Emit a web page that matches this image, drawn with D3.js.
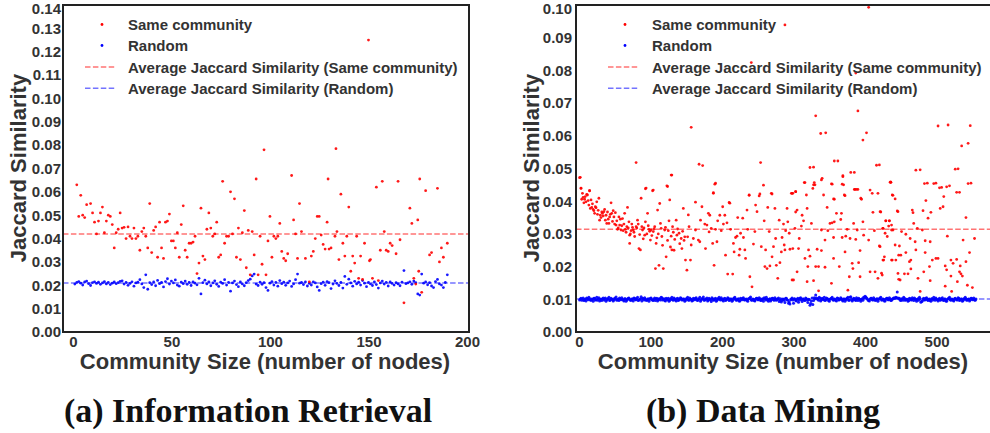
<!DOCTYPE html>
<html><head><meta charset="utf-8">
<script src="https://cdn.jsdelivr.net/npm/d3@7/dist/d3.min.js"></script>
<style>body{margin:0;background:#fff}svg{display:block}</style>
</head><body>
<svg id="c" width="990" height="433"></svg>
<script>
// ---------------- DATA ----------------
const legendLabels = ["Same community","Random","Average Jaccard Similarity (Same community)","Average Jaccard Similarity (Random)"];
const irYTicks = [0,0.01,0.02,0.03,0.04,0.05,0.06,0.07,0.08,0.09,0.10,0.11,0.12,0.13,0.14];
const irXTicks = [0,50,100,150,200];
const dmYTicks = [0,0.01,0.02,0.03,0.04,0.05,0.06,0.07,0.08,0.09,0.10];
const dmXTicks = [0,100,200,300,400,500];
const irAvgSame = 0.042, irAvgRandom = 0.021;
const dmAvgSame = 0.0314, dmAvgRandom = 0.0101;

// Information Retrieval: [community size, Jaccard similarity]
const irSame = [[2,.063],[4,.0585],[3,.0495],[5,.050],[6,.049],[7,.0545],[9,.055],[10,.051],[11,.047],[12,.042],[13,.0475],[14,.051],[15,.0535],[16,.0425],[17,.0475],[18,.050],[19,.0495],[20,.046],[21,.036],[22,.0425],[23,.044],[24,.051],[25,.0445],[26,.0448],[27,.040],[28,.045],[29,.041],[30,.040],[31,.0445],[32,.040],[33,.041],[34,.035],[35,.043],[36,.0445],[37,.041],[38,.036],[39,.055],[40,.034],[41,.0435],[42,.045],[43,.032],[44,.047],[45,.036],[46,.0315],[47,.047],[48,.0475],[49,.0505],[50,.039],[51,.039],[52,.036],[53,.0425],[54,.032],[55,.046],[56,.054],[57,.035],[58,.032],[59,.038],[60,.038],[61,.0385],[62,.041],[63,.025],[64,.0295],[65,.053],[66,.0325],[67,.031],[68,.044],[69,.051],[70,.0445],[71,.041],[72,.042],[73,.047],[74,.032],[75,.033],[76,.0645],[77,.038],[78,.041],[79,.041],[80,.060],[81,.042],[82,.057],[83,.032],[84,.0445],[85,.031],[86,.0425],[87,.052],[88,.0275],[89,.0435],[90,.0245],[91,.043],[92,.033],[93,.0655],[94,.0245],[95,.041],[96,.029],[97,.078],[98,.0245],[99,.039],[100,.0495],[101,.032],[102,.041],[103,.040],[104,.041],[105,.0465],[106,.0345],[107,.0315],[108,.0305],[109,.0335],[111,.067],[112,.048],[113,.042],[114,.0315],[115,.055],[116,.043],[118,.0315],[120,.0215],[121,.0325],[122,.0345],[123,.040],[124,.0495],[125,.0495],[126,.0415],[127,.0375],[128,.0355],[129,.047],[129.5,.0655],[130,.0355],[131,.036],[133,.041],[133.5,.0785],[134,.043],[135,.031],[136,.059],[137,.038],[138,.0325],[139,.041],[140,.0535],[141,.026],[142,.0325],[143,.0295],[144,.041],[145,.023],[146,.0325],[147,.0225],[148,.038],[150,.125],[150.5,.0305],[151,.031],[152,.023],[154,.062],[155,.022],[156,.035],[157,.0645],[158,.043],[159,.035],[160,.0345],[161,.038],[162,.037],[164,.0335],[165,.0645],[166,.0395],[168,.0125],[171,.053],[172,.0465],[173,.023],[174,.0205],[175,.048],[175.5,.026],[176,.0655],[177,.017],[179,.0605],[181,.033],[182,.034],[185,.0615],[186,.030],[187,.036],[188,.032],[190,.038]];

const irRandom = [[1,.0205],[2,.0212],[3,.0216],[4,.0209],[5,.0201],[6,.0214],[7,.0218],[8,.0207],[9,.0199],[10,.0211],[11,.0215],[12,.0208],[13,.0213],[14,.0204],[15,.0210],[16,.0216],[17,.0206],[18,.0212],[19,.0203],[20,.0209],[21,.0214],[22,.0207],[23,.0211],[24,.0217],[25,.0219],[26,.0205],[27,.0212],[28,.0200],[29,.0208],[30,.0215],[31,.0196],[32,.0210],[33,.0213],[34,.0224],[35,.0206],[36,.0190],[37,.0245],[38,.0183],[39,.0211],[40,.0203],[41,.0214],[42,.0198],[43,.0221],[44,.0207],[45,.0212],[46,.0193],[47,.0216],[48,.0228],[49,.0205],[50,.0218],[51,.0210],[52,.0223],[53,.0201],[54,.0196],[55,.0213],[56,.0207],[57,.0218],[58,.0204],[59,.0212],[60,.0199],[61,.0215],[62,.0209],[63,.0202],[64,.0230],[65,.0163],[66,.0211],[67,.0222],[68,.0206],[69,.0215],[70,.0198],[71,.0210],[72,.0219],[73,.0204],[74,.0195],[75,.0213],[76,.0208],[77,.0224],[78,.0201],[79,.0212],[80,.0175],[81,.0210],[82,.0218],[83,.0203],[84,.0194],[85,.0214],[86,.0206],[87,.0198],[88,.0211],[89,.0220],[90,.0226],[91,.0240],[92,.0248],[93,.0205],[94,.0199],[95,.0213],[96,.0204],[97,.0211],[98,.0190],[99,.0178],[100,.0209],[101,.0216],[102,.0201],[103,.0212],[104,.0196],[105,.0220],[106,.0207],[107,.0213],[108,.0200],[109,.0210],[110,.0218],[111,.0195],[112,.0206],[113,.0224],[114,.0248],[115,.0209],[116,.0212],[117,.0203],[118,.0214],[119,.0197],[120,.0208],[121,.0201],[122,.0215],[123,.0210],[124,.0193],[125,.0178],[126,.0207],[127,.0213],[128,.0200],[129,.0216],[130,.0211],[131,.0186],[132,.0205],[133,.0219],[134,.0208],[135,.0199],[136,.0212],[137,.0188],[138,.0238],[139,.0204],[140,.0226],[141,.0210],[142,.0196],[143,.0217],[144,.0206],[145,.0213],[146,.0201],[147,.0220],[148,.0209],[149,.0194],[150,.0212],[151,.0206],[152,.0199],[153,.0215],[154,.0203],[155,.0188],[156,.0210],[157,.0218],[158,.0205],[159,.0212],[160,.0197],[161,.0214],[162,.0208],[163,.0201],[164,.0211],[165,.0206],[166,.0198],[167,.0213],[168,.0263],[169,.0207],[170,.0210],[171,.0215],[172,.0204],[173,.0218],[174,.0211],[175,.0163],[176,.0158],[177,.0248],[178,.0209],[179,.0214],[180,.0202],[181,.0211],[182,.0197],[183,.0190],[184,.0216],[185,.0225],[186,.0206],[187,.0201],[188,.0190],[189,.0212],[190,.0245]];

// Data Mining: [community size, Jaccard similarity]
const dmSame = [[2,.0473],[3,.0440],[5,.0424],[4,.0406],[8,.0406],[10,.0398],[12,.0419],[15,.0432],[9,.0414],[17,.0404],[16,.0378],[18,.0381],[20,.0375],[23,.0383],[22,.0363],[25,.0398],[28,.0409],[30,.0357],[29,.0342],[32,.0367],[33,.0363],[36,.0375],[38,.0357],[39,.0332],[42,.0332],[40,.0367],[43,.0352],[45,.0395],[46,.0363],[48,.0371],[51,.0365],[52,.0327],[54,.0314],[56,.0352],[57,.0327],[59,.0312],[61,.0347],[64,.0363],[65,.0314],[68,.0381],[70,.0337],[71,.0296],[71,.0271],[73,.0310],[75,.0320],[78,.0292],[80,.0518],[80,.0322],[82,.0342],[84,.0255],[86,.0251],[87,.0409],[89,.0312],[92,.0296],[93,.0337],[94,.0440],[96,.0363],[98,.0314],[100,.0281],[101,.0312],[103,.0432],[104,.0307],[106,.0322],[107,.0194],[108,.0271],[110,.0373],[112,.0204],[113,.0393],[114,.0332],[115,.0317],[116,.0292],[118,.0194],[120,.0312],[122,.0230],[123,.0447],[126,.0340],[127,.0404],[129,.0293],[130,.0251],[131,.0322],[134,.0283],[136,.0342],[137,.0296],[130,.0480],[140,.0302],[143,.0286],[144,.0255],[146,.0378],[148,.0291],[149,.0220],
[6,.0412],[7,.0395],[11,.0421],[13,.0402],[14,.0388],[19,.0392],[21,.0371],[24,.0380],[26,.0360],[27,.0372],[31,.0350],[34,.0355],[35,.0368],[37,.0342],[41,.0345],[44,.0360],[47,.0338],[49,.0352],[50,.0330],[53,.0340],[55,.0318],[58,.0345],[60,.0325],[62,.0310],[63,.0330],[66,.0305],[67,.0322],[69,.0318],[72,.0300],[74,.0330],[76,.0312],[77,.0305],[81,.0318],[83,.0330],[85,.0298],[88,.0322],[90,.0285],[91,.0318],[95,.0300],[97,.0325],[99,.0308],[102,.0295],[105,.0315],[109,.0288],[111,.0300],[117,.0265],[121,.0320],[124,.0280],[125,.0310],[128,.0260],[132,.0305],[133,.0250],[138,.0315],[141,.0270],[145,.0308],[147,.0280],[1,.0472],[3,.0439],[15,.0432],[93,.0438],[104,.0434],[124,.0445],[129,.0480],
[168,.0513],[173,.0509],[163,.0397],[153,.0358],[154,.0322],[152,.0291],[157,.0266],[156,.0220],[151,.0189],[160,.0286],[163,.0312],[167,.0281],[169,.0276],[170,.0342],[172,.0383],[176,.0330],[177,.0255],[179,.0327],[181,.0363],[182,.0306],[183,.0357],[185,.0317],[187,.0271],[188,.0424],[189,.0204],[190,.0452],[191,.0314],[193,.0276],[194,.0340],[197,.0357],[199,.0310],[201,.0383],[202,.0330],[204,.0357],[205,.0235],[207,.0334],[208,.0177],[210,.0396],[211,.0394],[212,.0314],[215,.0177],[216,.0271],[217,.0245],[219,.0289],[221,.0293],[222,.0350],[224,.0235],[225,.0253],[226,.0302],[229,.0348],[230,.0289],[232,.0251],[233,.0225],[235,.0373],[236,.0314],[238,.0419],[239,.0169],[242,.0138],[244,.0269],[246,.0307],[247,.0388],[249,.0368],[252,.0416],[254,.0518],[255,.0261],[258,.0449],[259,.0340],[260,.0200],[261,.0251],[263,.0194],[264,.0381],[266,.0307],[267,.0202],[269,.0424],[270,.0230],[272,.0261],[274,.0378],[275,.0286],[276,.0204],[278,.0164],[280,.0342],[281,.0212],[283,.0245],[284,.0289],[286,.0330],[287,.0266],[288,.0251],[289,.0310],[291,.0378],[292,.0337],[294,.0302],[295,.0253],[297,.0424],[298,.0159],[157,.0626],[191,.0455],[188,.0426],[238,.0418],[253,.0422],[270,.0422],[241,.0824],[288,.0939],
[328,.0504],[362,.0523],[420,.0511],[340,.0470],[369,.0475],[385,.0488],[316,.0457],[327,.0439],[330,.0450],[354,.0452],[370,.0450],[303,.0429],[299,.0424],[342,.0419],[357,.0406],[372,.0417],[386,.0436],[390,.0436],[395,.0406],[407,.0434],[410,.0424],[418,.0424],[435,.0458],[438,.0419],[347,.0381],[303,.0367],[305,.0373],[319,.0378],[312,.0357],[360,.0363],[367,.0363],[411,.0366],[421,.0368],[446,.0368],[314,.0340],[325,.0332],[351,.0332],[354,.0334],[357,.0337],[366,.0344],[384,.0332],[397,.0337],[429,.0340],[434,.0340],[437,.0327],[302,.0317],[311,.0324],[339,.0312],[348,.0310],[375,.0314],[389,.0312],[413,.0310],[425,.0317],[439,.0312],[308,.0286],[344,.0281],[356,.0289],[368,.0289],[373,.0293],[379,.0286],[387,.0283],[398,.0296],[405,.0281],[299,.0255],[307,.0255],[321,.0251],[333,.0253],[339,.0249],[372,.0245],[393,.0249],[420,.0263],[442,.0266],[316,.0225],[323,.0232],[356,.0225],[382,.0210],[391,.0212],[425,.0220],[438,.0220],[447,.0235],[305,.0184],[320,.0200],[331,.0200],[335,.0200],[344,.0198],[364,.0200],[383,.0194],[407,.0184],[414,.0184],[424,.0174],[378,.0169],[393,.0169],[300,.0159],[319,.0154],[328,.0157],[353,.0149],[418,.0164],[446,.0179],[335,.0126],[376,.0128],[449,.0159],
[405,.0993],[387,.0792],[390,.0676],[331,.0661],[338,.0607],[345,.0609],[397,.0587],[402,.0609],[357,.0523],[323,.0503],[380,.0488],[416,.0510],[353,.0453],[368,.0452],[369,.0478],[315,.0457],[328,.0450],[329,.0457],[339,.0465],[385,.0436],[388,.0436],[371,.0419],[394,.0409],[298,.0424],[303,.0429],[318,.0419],[356,.0407],
[477,.0496],[530,.0499],[436,.0458],[487,.0455],[499,.0455],[518,.0447],[548,.0455],[507,.0442],[439,.0418],[442,.0407],[485,.0402],[510,.0414],[532,.0427],[422,.0367],[445,.0370],[466,.0373],[467,.0365],[481,.0371],[492,.0366],[505,.0378],[509,.0383],[488,.0348],[541,.0350],[429,.0340],[434,.0340],[468,.0332],[433,.0324],[425,.0317],[437,.0312],[451,.0307],[473,.0317],[480,.0312],[428,.0302],[431,.0292],[457,.0299],[463,.0286],[470,.0276],[484,.0279],[491,.0276],[515,.0293],[537,.0281],[553,.0286],[421,.0261],[448,.0263],[471,.0251],[484,.0243],[457,.0243],[450,.0235],[427,.0230],[426,.0220],[437,.0220],[443,.0220],[462,.0215],[464,.0220],[494,.0220],[499,.0225],[502,.0225],[520,.0220],[528,.0222],[546,.0243],[541,.0215],[490,.0200],[512,.0202],[533,.0202],[523,.0210],[464,.0193],[514,.0190],[532,.0184],[423,.0180],[455,.0178],[460,.0178],[520,.0171],[536,.0171],[534,.0178],[447,.0161],[474,.0164],[491,.0157],[529,.0154],[512,.0140],[543,.0143],[550,.0136],[477,.0124],[521,.0124],[482,.0184],
[502,.0630],[516,.0633],[547,.0631],[535,.0569],[544,.0577],[471,.0495],[526,.0498],[483,.0454],[496,.0454],[504,.0441],[514,.0444],[544,.0454],[528,.0427],[436,.0458]];

const dmRandom = [[1,.0098],[3,.0103],[5,.0100],[7,.0096],[9,.0101],[11,.0104],[13,.0099],[15,.0102],[17,.0097],[19,.0100],[21,.0103],[23,.0098],[25,.0106],[27,.0101],[29,.0095],[31,.0100],[33,.0102],[35,.0098],[37,.0104],[39,.0099],[41,.0101],[43,.0096],[45,.0103],[47,.0100],[49,.0098],[51,.0102],[53,.0097],[55,.0101],[57,.0104],[59,.0099],[61,.0100],[63,.0095],[65,.0102],[67,.0098],[69,.0103],[71,.0100],[73,.0097],[75,.0101],[77,.0104],[79,.0099],[81,.0102],[83,.0096],[85,.0100],[87,.0108],[89,.0103],[91,.0098],[93,.0101],[95,.0097],[97,.0102],[99,.0100],[101,.0104],[103,.0098],[105,.0101],[107,.0096],[109,.0103],[111,.0099],[113,.0101],[115,.0106],[117,.0098],[119,.0102],[121,.0095],[123,.0100],[125,.0103],[127,.0097],[129,.0101],[131,.0099],[133,.0104],[135,.0098],[137,.0102],[139,.0096],[141,.0100],[143,.0103],[145,.0099],[147,.0101],[149,.0097],[151,.0102],[153,.0098],[155,.0104],[157,.0100],[159,.0096],[161,.0101],[163,.0103],[165,.0098],[167,.0100],[169,.0106],[171,.0099],[173,.0102],[175,.0097],[177,.0101],[179,.0104],[181,.0098],[183,.0100],[185,.0093],[187,.0102],[189,.0099],[191,.0103],[193,.0097],[195,.0101],[197,.0100],[199,.0105],[201,.0098],[203,.0102],[205,.0096],[207,.0100],[209,.0103],[211,.0099],[213,.0101],[215,.0097],[217,.0104],[219,.0100],[221,.0098],[223,.0102],[225,.0095],[227,.0101],[229,.0103],[231,.0099],[233,.0100],[235,.0097],[237,.0102],[239,.0104],[241,.0098],[243,.0101],[245,.0096],[247,.0100],[249,.0103],[251,.0099],[253,.0102],[255,.0097],[257,.0101],[259,.0105],[261,.0098],[263,.0100],[265,.0094],[267,.0102],[269,.0099],[271,.0103],[273,.0097],[275,.0101],[277,.0100],[279,.0104],[281,.0098],[283,.0092],[285,.0101],[287,.0097],[289,.0103],[291,.0099],[293,.0088],[295,.0086],[297,.0101],[299,.0098],[301,.0102],[303,.0096],[305,.0100],[307,.0091],[309,.0103],[311,.0099],[313,.0101],[315,.0097],[317,.0104],[319,.0098],[321,.0100],[323,.0082],[325,.0095],[327,.0084],[329,.0105],[331,.0113],[333,.0101],[335,.0097],[337,.0103],[339,.0099],[341,.0101],[343,.0106],[345,.0098],[347,.0102],[349,.0096],[351,.0100],[353,.0103],[355,.0099],[357,.0101],[359,.0097],[361,.0104],[363,.0098],[365,.0100],[367,.0102],[369,.0095],[371,.0101],[373,.0099],[375,.0103],[377,.0097],[379,.0106],[381,.0100],[383,.0098],[385,.0102],[387,.0096],[389,.0101],[391,.0103],[393,.0099],[395,.0100],[397,.0097],[399,.0104],[401,.0107],[403,.0102],[405,.0096],[407,.0100],[409,.0103],[411,.0098],[413,.0101],[415,.0097],[417,.0102],[419,.0100],[421,.0104],[423,.0098],[425,.0101],[427,.0095],[429,.0100],[431,.0103],[433,.0099],[435,.0101],[437,.0097],[439,.0102],[441,.0104],[443,.0106],[445,.0122],[447,.0102],[449,.0098],[451,.0101],[453,.0097],[455,.0103],[457,.0099],[459,.0100],[461,.0096],[463,.0102],[465,.0098],[467,.0101],[469,.0104],[471,.0099],[473,.0100],[475,.0097],[477,.0102],[479,.0093],[481,.0101],[483,.0098],[485,.0103],[487,.0099],[489,.0100],[491,.0096],[493,.0102],[495,.0098],[497,.0101],[499,.0104],[501,.0099],[503,.0100],[505,.0097],[507,.0102],[509,.0098],[511,.0101],[513,.0095],[515,.0100],[517,.0103],[519,.0099],[521,.0101],[523,.0097],[525,.0102],[527,.0100],[529,.0098],[531,.0103],[533,.0099],[535,.0101],[537,.0096],[539,.0100],[541,.0102],[543,.0098],[545,.0101],[547,.0099],[549,.0103],[551,.0100],[553,.0098],[555,.0101],
[2,.0101],[4,.0097],[6,.0104],[8,.0099],[10,.0095],[12,.0102],[14,.0106],[16,.0098],[18,.0101],[20,.0094],[22,.0103],[24,.0099],[26,.0097],[28,.0105],[30,.0100],[32,.0096],[34,.0104],[36,.0101],[38,.0094],[40,.0102],[42,.0106],[44,.0098],[46,.0100],[48,.0095],[50,.0103],[52,.0107],[54,.0099],[56,.0096],[58,.0101],[60,.0105],[62,.0098],[64,.0102],[66,.0094],[68,.0100],[70,.0104],[72,.0097],[74,.0101],[76,.0095],[78,.0103],[80,.0099],[82,.0106],[84,.0098],[86,.0101],[88,.0095],[90,.0102],[92,.0105],[94,.0097],[96,.0100],[98,.0094],[100,.0103],[102,.0099],[104,.0096],[106,.0104],[108,.0101],[110,.0095],[112,.0102],[114,.0098],[116,.0105],[118,.0100],[120,.0096],[122,.0103],[124,.0099],[126,.0094],[128,.0102],[130,.0106],[132,.0097],[134,.0101],[136,.0095],[138,.0103],[140,.0099],[142,.0105],[144,.0098],[146,.0101],[148,.0094],[150,.0102],[152,.0106],[154,.0097],[156,.0100],[158,.0095],[160,.0103],[162,.0099],[164,.0105],[166,.0096],[168,.0101],[170,.0094],[172,.0102],[174,.0107],[176,.0098],[178,.0100],[180,.0095],[182,.0103],[184,.0099],[186,.0105],[188,.0097],[190,.0101],[192,.0094],[194,.0102],[196,.0106],[198,.0098],[200,.0100],[202,.0095],[204,.0103],[206,.0099],[208,.0105],[210,.0096],[212,.0101],[214,.0094],[216,.0102],[218,.0106],[220,.0097],[222,.0100],[224,.0095],[226,.0103],[228,.0099],[230,.0105],[232,.0098],[234,.0101],[236,.0094],[238,.0102],[240,.0107],[242,.0097],[244,.0100],[246,.0095],[248,.0103],[250,.0099],[252,.0105],[254,.0096],[256,.0101],[258,.0094],[260,.0102],[262,.0106],[264,.0098],[266,.0100],[268,.0095],[270,.0103],[272,.0099],[274,.0105],[276,.0097],[278,.0101],[280,.0093],[282,.0102],[284,.0096],[286,.0100],[288,.0090],[290,.0103],[292,.0097],[294,.0092],[296,.0099],[298,.0104],[300,.0088],[302,.0101],[304,.0095],[306,.0103],[308,.0098],[310,.0105],[312,.0093],[314,.0101],[316,.0096],[318,.0102],[320,.0090],[322,.0099],[324,.0087],[326,.0104],[328,.0096],[330,.0102],[332,.0104],[334,.0102],[336,.0106],[338,.0095],[340,.0103],[342,.0099],[344,.0096],[346,.0104],[348,.0101],[350,.0094],[352,.0102],[354,.0106],[356,.0097],[358,.0100],[360,.0095],[362,.0103],[364,.0099],[366,.0105],[368,.0098],[370,.0101],[372,.0094],[374,.0102],[376,.0106],[378,.0097],[380,.0108],[382,.0095],[384,.0103],[386,.0099],[388,.0105],[390,.0096],[392,.0101],[394,.0094],[396,.0102],[398,.0106],[400,.0109],[402,.0104],[404,.0098],[406,.0095],[408,.0103],[410,.0099],[412,.0105],[414,.0097],[416,.0101],[418,.0094],[420,.0102],[422,.0106],[424,.0098],[426,.0100],[428,.0095],[430,.0103],[432,.0099],[434,.0105],[436,.0096],[438,.0101],[440,.0104],[442,.0103],[444,.0105],[446,.0104],[448,.0103],[450,.0096],[452,.0102],[454,.0106],[456,.0097],[458,.0100],[460,.0094],[462,.0103],[464,.0099],[466,.0105],[468,.0096],[470,.0101],[472,.0094],[474,.0102],[476,.0106],[478,.0091],[480,.0095],[482,.0103],[484,.0099],[486,.0105],[488,.0096],[490,.0101],[492,.0094],[494,.0102],[496,.0106],[498,.0097],[500,.0100],[502,.0095],[504,.0103],[506,.0099],[508,.0105],[510,.0096],[512,.0101],[514,.0094],[516,.0102],[518,.0106],[520,.0097],[522,.0100],[524,.0095],[526,.0103],[528,.0099],[530,.0105],[532,.0096],[534,.0101],[536,.0094],[538,.0102],[540,.0106],[542,.0097],[544,.0100],[546,.0095],[548,.0103],[550,.0099],[552,.0104],[554,.0097]];

// ---------------- DRAW ----------------
const svg = d3.select('#c');
const SANS = '"Liberation Sans", Arial, sans-serif';
const SERIF = '"Liberation Serif", "Times New Roman", serif';
const RED = '#ff0000', BLUE = '#0000ff';
const DASH = '5.5,2.4';

function panel(c) {
  const x = d3.scaleLinear().domain(c.xDomain).range([c.left, c.right]);
  const y = d3.scaleLinear().domain([0, c.yMax]).range([c.bottom, c.top]);
  const g = svg.append('g');

  const cid = 'clip' + c.id;
  svg.append('clipPath').attr('id', cid).append('rect')
    .attr('x', c.left).attr('y', c.top).attr('width', c.right - c.left).attr('height', c.bottom - c.top);
  const pg = g.append('g').attr('clip-path', `url(#${cid})`);

  pg.append('line').attr('x1', c.left).attr('x2', c.right).attr('y1', y(c.avgSame)).attr('y2', y(c.avgSame))
    .attr('stroke', RED).attr('stroke-opacity', 0.55).attr('stroke-width', 1.5).attr('stroke-dasharray', DASH);
  pg.append('line').attr('x1', c.left).attr('x2', c.right).attr('y1', y(c.avgRandom)).attr('y2', y(c.avgRandom))
    .attr('stroke', BLUE).attr('stroke-opacity', 0.55).attr('stroke-width', 1.5).attr('stroke-dasharray', DASH);

  pg.append('g').selectAll('circle').data(c.random).join('circle')
    .attr('cx', d => x(d[0])).attr('cy', d => y(d[1])).attr('r', c.rBlue).attr('fill', BLUE).attr('fill-opacity', 0.9);
  pg.append('g').selectAll('circle').data(c.same).join('circle')
    .attr('cx', d => x(d[0])).attr('cy', d => y(d[1])).attr('r', 1.4).attr('fill', RED).attr('fill-opacity', 0.9);

  g.append('rect').attr('x', c.left).attr('y', c.top).attr('width', c.right - c.left).attr('height', c.bottom - c.top)
    .attr('fill', 'none').attr('stroke', '#222').attr('stroke-width', 2);

  const ya = g.append('g').attr('transform', `translate(${c.left},0)`)
    .call(d3.axisLeft(y).tickValues(c.yTicks).tickFormat(d3.format('.2f')).tickSize(0).tickPadding(c.yPad));
  const xa = g.append('g').attr('transform', `translate(0,${c.bottom})`)
    .call(d3.axisBottom(x).tickValues(c.xTicks).tickFormat(d3.format('d')).tickSize(0).tickPadding(4));
  [ya, xa].forEach(a => {
    a.select('.domain').remove();
    a.selectAll('text').attr('font-family', SANS).attr('font-weight', 'bold').attr('font-size', 15).attr('fill', '#333');
  });
  // keep the top label inside the picture
  ya.selectAll('text').filter(d => d === c.yMax).attr('y', 4);

  g.append('text').attr('transform', `translate(${c.yLabelX},${c.yLabelY}) rotate(-90)`)
    .attr('text-anchor', 'middle').attr('dominant-baseline', 'central')
    .attr('font-family', SANS).attr('font-weight', 'bold').attr('font-size', 22).attr('fill', '#333')
    .text('Jaccard Similarity');
  g.append('text').attr('x', c.xLabelX).attr('y', 369).attr('text-anchor', 'middle')
    .attr('font-family', SANS).attr('font-weight', 'bold').attr('font-size', 22).attr('fill', '#333')
    .text('Community Size (number of nodes)');

  const rows = [24.5, 45.5, 67, 88.3];
  const lg = g.append('g');
  lg.append('circle').attr('cx', c.legMark).attr('cy', rows[0]).attr('r', 1.4).attr('fill', RED);
  lg.append('circle').attr('cx', c.legMark).attr('cy', rows[1]).attr('r', 1.4).attr('fill', BLUE);
  lg.append('line').attr('x1', c.legMark - 17).attr('x2', c.legMark + 13).attr('y1', rows[2]).attr('y2', rows[2])
    .attr('stroke', RED).attr('stroke-opacity', 0.55).attr('stroke-width', 1.5).attr('stroke-dasharray', DASH);
  lg.append('line').attr('x1', c.legMark - 17).attr('x2', c.legMark + 13).attr('y1', rows[3]).attr('y2', rows[3])
    .attr('stroke', BLUE).attr('stroke-opacity', 0.55).attr('stroke-width', 1.5).attr('stroke-dasharray', DASH);
  lg.selectAll('text').data(legendLabels).join('text')
    .attr('x', c.legText).attr('y', (d, i) => rows[i]).attr('dominant-baseline', 'central')
    .attr('font-family', SANS).attr('font-weight', 'bold').attr('font-size', 15).attr('fill', '#333')
    .text(d => d);

  g.append('text').attr('x', c.capX).attr('y', 422).attr('text-anchor', 'middle')
    .attr('font-family', SERIF).attr('font-weight', 'bold').attr('font-size', 34).attr('fill', '#111')
    .text(c.caption);
}

panel({id: 'a', left: 63, right: 469, top: 5, bottom: 332, xDomain: [-5, 201], yMax: 0.14,
  yTicks: irYTicks, xTicks: irXTicks, same: irSame, random: irRandom, avgSame: irAvgSame, avgRandom: irAvgRandom,
  yPad: 2, yLabelX: 18, yLabelY: 168, xLabelX: 265, legMark: 102, legText: 128, rBlue: 1.4,
  caption: '(a) Information Retrieval', capX: 248});

panel({id: 'b', left: 576, right: 991, top: 5, bottom: 332, xDomain: [-4, 576], yMax: 0.10,
  yTicks: dmYTicks, xTicks: dmXTicks, same: dmSame, random: dmRandom, avgSame: dmAvgSame, avgRandom: dmAvgRandom,
  yPad: 4, yLabelX: 531, yLabelY: 168, xLabelX: 783, legMark: 625, legText: 652, rBlue: 1.5,
  caption: '(b) Data Mining', capX: 763});
</script>
</body></html>
